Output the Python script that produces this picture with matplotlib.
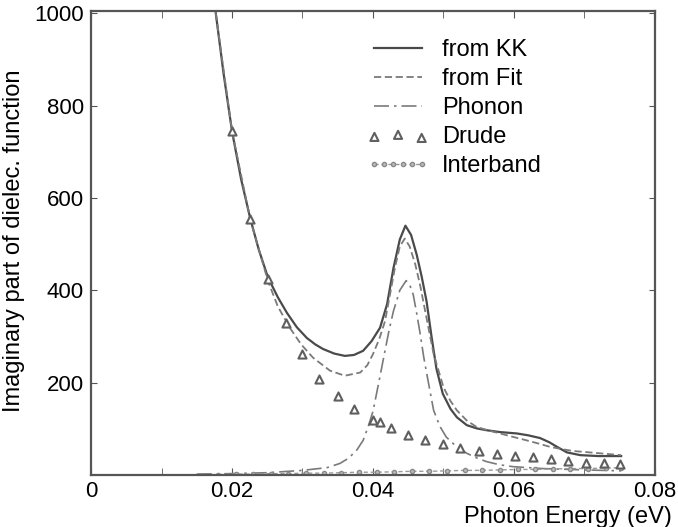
import numpy as np
import matplotlib
matplotlib.use("Agg")
import matplotlib.pyplot as plt

# Imaginary part of the dielectric function vs photon energy
kk_x = [0.0177, 0.0188, 0.0200, 0.0213, 0.0226, 0.0238, 0.0251, 0.0265, 0.0278, 0.0292,
        0.0306, 0.0318, 0.0329, 0.0345, 0.0360, 0.0373, 0.0386, 0.0398, 0.0410, 0.0420,
        0.0429, 0.0438, 0.0446, 0.0454, 0.0462, 0.0469, 0.0476, 0.0483, 0.0490, 0.0499,
        0.0510, 0.0519, 0.0533, 0.0547, 0.0561, 0.0580, 0.0604, 0.0620, 0.0637, 0.0650,
        0.0661, 0.0675, 0.0694, 0.0720, 0.0752]
kk_y = [1000, 870, 745, 640, 555, 488, 428, 385, 351, 320,
        297, 283, 273, 263, 258, 260, 269, 290, 319, 370,
        448, 510, 540, 520, 477, 430, 376, 300, 230, 176,
        143, 125, 108, 101, 97, 93, 90, 86, 80, 71,
        61, 49, 43, 41, 41]

fit_x = [0.0177, 0.0200, 0.0226, 0.0251, 0.0265, 0.0282, 0.0298, 0.0315, 0.0339, 0.0360,
         0.0382, 0.0392, 0.0400, 0.0409, 0.0417, 0.0424, 0.0431, 0.0438, 0.0445, 0.0452,
         0.0460, 0.0467, 0.0474, 0.0486, 0.0500, 0.0510, 0.0519, 0.0533, 0.0547, 0.0565,
         0.0580, 0.0600, 0.0618, 0.0635, 0.0651, 0.0668, 0.0684, 0.0722, 0.0752]
fit_y = [1000, 745, 553, 420, 365, 319, 283, 254, 226, 215,
         222, 238, 262, 295, 333, 390, 448, 495, 512, 495,
         456, 410, 355, 262, 190, 160, 140, 118, 104, 96,
         90, 82, 75, 68, 61, 56, 52, 47, 43]

phonon_x = [0.0150, 0.0200, 0.0250, 0.0300, 0.0335, 0.0353, 0.0365, 0.0377, 0.0386, 0.0393,
            0.0400, 0.0405, 0.0411, 0.0417, 0.0423, 0.0429, 0.0438, 0.0447, 0.0452, 0.0457,
            0.0462, 0.0467, 0.0472, 0.0478, 0.0486, 0.0495, 0.0504, 0.0518, 0.0533, 0.0547,
            0.0561, 0.0580, 0.0599, 0.0640, 0.0700, 0.0752]
phonon_y = [2, 3, 5, 10, 16, 25, 36, 54, 75, 104,
            138, 176, 222, 269, 315, 355, 400, 421, 412, 391,
            350, 305, 255, 205, 140, 105, 82, 62, 47, 37,
            29, 22, 18, 14, 11, 9]

drude_x = [0.0200, 0.0225, 0.0251, 0.0277, 0.0299, 0.0323, 0.0350, 0.0373, 0.0400, 0.0410,
           0.0425, 0.0450, 0.0474, 0.0499, 0.0524, 0.0550, 0.0576, 0.0601, 0.0627, 0.0652,
           0.0677, 0.0702, 0.0727, 0.0750]
drude_y = [745, 555, 424, 329, 262, 209, 172, 142, 120, 114,
           101, 87, 75, 67, 59, 52, 45, 41, 38, 34,
           30, 26, 25, 24]

inter_x = [0.0180, 0.0205, 0.0230, 0.0255, 0.0280, 0.0305, 0.0330, 0.0355, 0.0380, 0.0405,
           0.0430, 0.0455, 0.0480, 0.0505, 0.0530, 0.0555, 0.0580, 0.0605, 0.0630, 0.0655,
           0.0680, 0.0705, 0.0730, 0.0752]
inter_y = [1, 2, 2, 3, 3, 4, 4, 5, 6, 6,
           7, 8, 8, 9, 10, 10, 11, 12, 12, 13,
           14, 14, 15, 16]

plt.rcParams['font.family'] = ['Liberation Sans', 'DejaVu Sans']

fig = plt.figure(figsize=(6.78, 5.27), dpi=100)
ax = fig.add_axes([91 / 678, 52 / 527, 564 / 678, 464 / 527])

ax.plot(kk_x, kk_y, color='#4a4a4a', lw=1.6, label='from KK')
ax.plot(fit_x, fit_y, color='#7a7a7a', lw=1.3, dashes=(4, 2), label='from Fit')
ax.plot(phonon_x, phonon_y, color='#7a7a7a', lw=1.2, dashes=(9, 3, 1.5, 3), label='Phonon')
ax.scatter(drude_x, drude_y, marker='^', s=34, facecolors='white', edgecolors='#5f5f5f',
           linewidths=1.5, label='Drude', zorder=3)
ax.plot(inter_x, inter_y, color='#9a9a9a', lw=1.0, dashes=(3, 2), marker='o', ms=3,
        mfc='#bbbbbb', mec='#8a8a8a', label='Interband')

ax.set_xlim(0, 0.08)
ax.set_ylim(0, 1005)
ax.set_xticks([0, 0.02, 0.04, 0.06, 0.08])
ax.set_xticklabels(['0', '0.02', '0.04', '0.06', '0.08'])
ax.set_xticks(np.arange(0.01, 0.08, 0.02), minor=True)
ax.set_yticks([200, 400, 600, 800, 1000])

for sp in ax.spines.values():
    sp.set_color('#555555')
    sp.set_linewidth(1.6)
ax.tick_params(axis='both', which='both', direction='in', top=True, right=True,
               color='#555555', labelsize=16)
ax.tick_params(axis='x', which='major', length=5, pad=4)
ax.tick_params(axis='x', which='minor', length=5)
ax.tick_params(axis='y', length=4, pad=5)

ax.set_xlabel('Photon Energy (eV)', fontsize=17, loc='right')
ax.xaxis.set_label_coords(1.03, -0.067)
ax.set_ylabel('Imaginary part of dielec. function', fontsize=17)
ax.yaxis.set_label_coords(-0.117, 0.505)

ax.legend(loc='upper left', bbox_to_anchor=(0.49, 0.94), frameon=False, fontsize=17,
          numpoints=6, scatterpoints=3, handlelength=2.6, handletextpad=0.55,
          labelspacing=0.3, borderaxespad=0, borderpad=0)

fig.savefig('out.png', dpi=100)
